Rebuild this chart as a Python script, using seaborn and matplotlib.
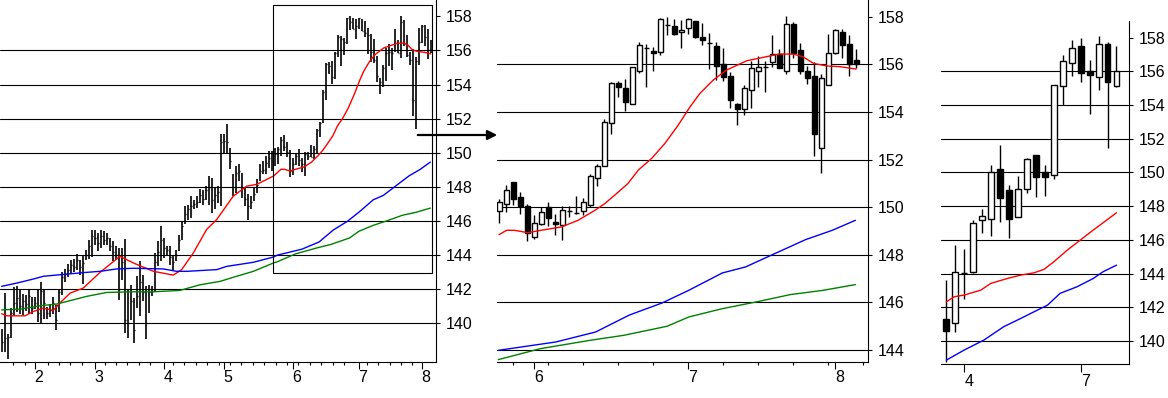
#three panel price chart - daily bars, daily candles (zoom), weekly candles

import matplotlib
matplotlib.use("Agg")
import matplotlib.pyplot as plt
from matplotlib.patches import Rectangle, FancyArrowPatch
import seaborn as sns
import pandas as pd
import numpy as np

#daily bars before the zoom window (high / low / close), bar index 0..91
early_high = [139.67, 141.76, 139.37, 140.88, 142.12, 142.16, 142.02, 141.72, 141.63, 142.02,
              141.53, 141.53, 141.92, 142.41, 142.02, 140.94, 141.14, 141.53, 141.04, 142.02,
              143.00, 143.20, 143.49, 143.69, 143.78, 144.08, 143.69, 143.98, 144.27, 144.86,
              145.49, 145.49, 145.29, 145.49, 145.39, 145.29, 145.00, 144.80, 144.51, 144.41,
              144.41, 144.94, 141.96, 142.25, 141.47, 142.74, 143.63, 142.84, 142.16, 142.25,
              142.16, 144.12, 144.80, 145.72, 145.00, 144.51, 144.51, 144.02, 144.31, 145.20,
              145.98, 146.86, 146.96, 147.45, 147.25, 147.45, 147.88, 147.84, 148.04, 148.63,
              148.53, 147.94, 148.04, 151.08, 151.08, 151.67, 150.30, 148.73, 149.22, 149.31,
              148.82, 147.94, 147.55, 147.45, 147.94, 148.43, 149.31, 149.51, 149.80, 150.10,
              150.10, 150.30]
early_low = [138.29, 138.29, 137.90, 139.12, 140.41, 140.65, 140.55, 140.45, 140.74, 140.55,
             140.55, 140.84, 140.06, 139.96, 140.25, 140.25, 140.35, 140.55, 139.57, 140.65,
             141.63, 142.41, 142.71, 142.90, 143.00, 143.10, 142.80, 142.31, 143.69, 143.78,
             143.88, 144.61, 144.21, 144.41, 144.61, 144.61, 144.21, 143.63, 143.72, 141.37,
             142.55, 139.41, 139.12, 140.20, 138.82, 140.88, 140.39, 141.27, 139.06, 140.59,
             141.57, 141.86, 143.33, 143.63, 143.82, 144.02, 143.43, 143.14, 143.63, 144.21,
             144.90, 145.79, 146.08, 146.18, 146.67, 146.77, 147.06, 146.96, 147.25, 146.96,
             146.47, 146.67, 147.06, 146.86, 150.00, 149.90, 149.02, 147.45, 147.65, 148.33,
             147.35, 146.86, 146.08, 146.67, 147.16, 147.65, 148.33, 148.73, 148.73, 149.12,
             148.92, 149.22]
early_close = [138.9, 139.1, 139.2, 140.6, 141.2, 141.5, 141.0, 141.3, 141.1, 141.6,
               140.9, 141.2, 140.6, 141.9, 141.2, 140.6, 140.8, 141.2, 140.2, 141.8,
               142.7, 142.9, 143.1, 143.4, 143.3, 143.7, 143.3, 143.5, 144.0, 144.5,
               145.1, 145.0, 144.7, 145.1, 144.9, 145.0, 144.5, 144.2, 144.0, 142.0,
               143.6, 140.2, 140.0, 141.3, 139.6, 141.6, 142.4, 141.8, 140.0, 141.8,
               141.9, 143.6, 144.2, 144.9, 144.4, 144.3, 143.9, 143.6, 144.0, 144.9,
               145.7, 146.4, 146.7, 146.9, 147.0, 147.1, 147.5, 147.3, 147.8, 148.0,
               147.2, 147.5, 147.7, 150.6, 150.7, 150.6, 149.5, 148.0, 148.8, 148.9,
               148.0, 147.3, 146.9, 147.1, 147.6, 148.1, 148.9, 149.0, 149.4, 149.7,
               149.5, 149.9]

#daily candles inside the zoom window (bar index 92..143)
zoom_open = [149.82, 150.15, 151.04, 150.41, 150.03, 148.75, 149.30, 150.00, 149.37, 149.27,
             149.83, 149.76, 149.82, 150.11, 151.21, 151.75, 153.52, 155.20, 154.99, 154.32,
             155.71, 156.67, 156.56, 156.50, 157.65, 157.60, 157.35, 157.51, 157.82, 157.15,
             156.88, 156.77, 156.00, 155.51, 154.33, 154.11, 154.91, 155.71, 155.87, 156.08,
             156.42, 155.71, 157.68, 156.59, 155.72, 155.50, 152.47, 155.14, 156.49, 157.35,
             156.86, 156.17]
zoom_high = [150.34, 150.93, 151.06, 150.62, 150.13, 149.69, 150.00, 150.21, 149.71, 150.04,
             150.04, 150.46, 150.39, 151.39, 151.81, 153.70, 155.27, 155.30, 155.38, 155.90,
             156.93, 156.86, 156.74, 157.93, 158.00, 157.91, 157.86, 157.93, 157.82, 157.75,
             157.33, 156.94, 156.69, 155.68, 154.37, 155.13, 156.14, 156.35, 156.14, 157.23,
             156.64, 158.03, 157.77, 156.88, 155.93, 156.08, 155.59, 157.29, 157.50, 157.49,
             157.25, 156.64]
zoom_low = [149.34, 149.80, 150.11, 149.73, 148.58, 148.67, 149.26, 149.20, 148.84, 148.63,
            149.59, 149.73, 149.66, 150.01, 150.90, 151.75, 153.07, 154.64, 154.05, 154.32,
            155.62, 155.06, 155.73, 156.39, 157.21, 157.23, 156.67, 157.26, 157.12, 156.79,
            155.82, 155.34, 155.29, 154.16, 153.46, 153.88, 154.18, 155.06, 154.85, 155.90,
            155.86, 155.58, 156.25, 155.59, 155.16, 152.16, 151.42, 155.14, 156.45, 156.25,
            155.52, 155.86]
zoom_close = [150.20, 150.74, 150.35, 150.06, 148.93, 149.35, 149.78, 149.55, 149.31, 149.90,
              149.83, 149.76, 150.20, 151.33, 151.72, 153.56, 155.20, 155.06, 154.43, 155.87,
              156.80, 156.67, 156.49, 157.89, 157.65, 157.26, 157.43, 157.89, 157.16, 157.01,
              156.88, 155.92, 155.45, 154.51, 154.14, 154.99, 155.83, 155.89, 155.87, 156.42,
              155.86, 157.68, 156.46, 155.73, 155.44, 153.08, 155.41, 156.48, 157.44, 156.79,
              156.00, 156.00]

#moving averages (bar index, value)
red_idx = [0, 1.7, 7.8, 10.6, 13.9, 17.2, 19.4, 22.8, 27.2, 32.8, 39.4, 43.9, 50.6, 57.2, 60.0,
           63.9, 68.3, 71.7, 77.2, 81.7, 85.0, 90.6, 92.0, 93.1, 94.2, 96.1, 98.0, 100.9, 103.3,
           105.7, 107.1, 108.5, 110.4, 111.9, 113.8, 115.7, 117.6, 119.3, 120.7, 122.6, 124.5,
           127.4, 130.2, 132.0, 134.0, 135.4, 136.9, 138.8, 140.7, 143.0]
red_val = [140.55, 140.43, 140.43, 140.69, 140.88, 140.75, 141.18, 141.76, 142.06, 142.98, 143.92,
           143.53, 143.04, 142.82, 143.14, 144.12, 145.49, 146.08, 147.45, 148.04, 148.14, 148.63,
           148.85, 149.03, 149.03, 148.93, 149.03, 149.17, 149.45, 149.87, 150.15, 150.50, 150.99,
           151.56, 152.05, 152.68, 153.45, 154.22, 154.78, 155.34, 155.76, 156.15, 156.32, 156.43,
           156.43, 156.32, 156.04, 155.93, 155.90, 155.80]
blue_idx = [0, 5, 10.6, 13.9, 19.4, 28.3, 32.8, 38.3, 43.9, 53.9, 58.3, 61.7, 71.7, 75.0, 83.9,
            90.6, 91.9, 100.1, 105.8, 110.6, 115.3, 119.1, 123.9, 127.2, 131.0, 135.8, 139.6, 142.9]
blue_val = [142.16, 142.35, 142.59, 142.75, 142.84, 142.98, 143.04, 143.18, 143.22, 143.18, 143.04,
            143.04, 143.14, 143.33, 143.57, 143.88, 143.99, 144.34, 144.76, 145.47, 145.98, 146.51,
            147.24, 147.49, 148.00, 148.64, 149.03, 149.45]
green_idx = [0, 6.1, 12.8, 18.3, 21.7, 28.3, 35.0, 43.9, 50.6, 59.4, 66.1, 72.8, 77.2, 83.9, 90.6,
             91.9, 97.9, 105.0, 109.8, 116.0, 119.1, 123.9, 128.7, 133.6, 138.3, 142.9]
green_val = [140.78, 140.82, 141.02, 141.12, 141.27, 141.57, 141.80, 141.84, 141.84, 141.92, 142.25,
             142.45, 142.69, 143.04, 143.53, 143.60, 144.06, 144.41, 144.62, 145.00, 145.39, 145.74,
             146.02, 146.33, 146.51, 146.75]

#weekly candles
week_open = [141.30, 141.05, 144.05, 144.11, 147.17, 147.21, 150.23, 148.95, 147.37, 148.99,
             151.02, 150.00, 149.84, 155.15, 156.51, 157.48, 156.00, 155.68, 157.64, 155.13]
week_high = [143.62, 145.69, 145.45, 147.17, 147.86, 150.43, 151.62, 149.25, 149.78, 150.88,
             151.02, 150.43, 155.19, 156.95, 157.88, 157.98, 156.65, 158.07, 157.76, 157.48]
week_low = [138.78, 140.55, 142.49, 144.05, 146.38, 146.26, 147.07, 146.14, 147.33, 148.79,
            148.55, 148.61, 149.64, 153.97, 155.72, 155.37, 153.49, 154.87, 151.42, 155.07]
week_close = [140.61, 144.07, 144.05, 147.03, 147.41, 150.05, 148.51, 147.21, 148.99, 150.77,
              149.74, 149.70, 155.19, 156.63, 157.40, 155.92, 155.80, 157.64, 155.39, 156.02]
wred_idx = [0, 0.89, 2.0, 3.85, 4.96, 6.8, 8.3, 9.8, 10.9, 12.0, 13.5, 14.96, 16.4, 17.9, 19.0]
wred_val = [142.33, 142.63, 142.73, 143.02, 143.42, 143.71, 143.91, 144.05, 144.25, 144.70,
            145.39, 145.99, 146.58, 147.17, 147.61]
wblue_idx = [0, 2.0, 4.2, 6.4, 8.3, 9.8, 11.3, 12.7, 14.6, 16.4, 17.5, 19.0]
wblue_val = [138.87, 139.47, 140.06, 140.85, 141.34, 141.74, 142.13, 142.83, 143.22, 143.71,
             144.11, 144.50]

#month labels
month_start = [11, 31, 54, 74, 97, 119, 140]
month_label = ['2', '3', '4', '5', '6', '7', '8']
week_tick = [2, 15]
week_tick_label = ['4', '7']

zoom_first = 92

sns.set_style("white")
plt.rcParams['font.family'] = ['Liberation Sans', 'DejaVu Sans']

daily = pd.DataFrame({
    'high': early_high + zoom_high,
    'low': early_low + zoom_low,
    'close': early_close + zoom_close,
})
daily['idx'] = np.arange(len(daily))

zoom = pd.DataFrame({'open': zoom_open, 'high': zoom_high, 'low': zoom_low, 'close': zoom_close})
zoom['idx'] = np.arange(len(zoom))

weekly = pd.DataFrame({'open': week_open, 'high': week_high, 'low': week_low, 'close': week_close})
weekly['idx'] = np.arange(len(weekly))

fig = plt.figure(figsize=(11.68, 3.98), dpi=100)
W, H = 1168, 398


def add_axes(x0, x1, y0, y1):
    return fig.add_axes([x0 / W, 1 - y1 / H, (x1 - x0) / W, (y1 - y0) / H])


ax_l = add_axes(0, 436, 0, 362)
ax_m = add_axes(497, 868, 0, 362)
ax_r = add_axes(941, 1129, 21, 364)

lw = 0.8
fs = 11.5


def style_axis(ax, yticks, grid_vals, xticks, xlabels, minor=None):
    for s in ['top', 'left']:
        ax.spines[s].set_visible(False)
    for s in ['bottom', 'right']:
        ax.spines[s].set_linewidth(lw)
        ax.spines[s].set_color('black')
    ax.yaxis.tick_right()
    ax.set_yticks(yticks)
    ax.set_yticklabels([str(v) for v in yticks])
    ax.set_xticks(xticks, xlabels)
    if minor is not None:
        ax.set_xticks(minor, minor=True)
    ax.tick_params(axis='y', which='both', right=True, left=False, direction='out', length=3,
                   width=lw, labelsize=fs, pad=4, colors='black')
    ax.tick_params(axis='x', which='both', bottom=True, top=False, direction='out',
                   width=lw, colors='black')
    ax.tick_params(axis='x', which='major', length=5, labelsize=fs, pad=1)
    ax.tick_params(axis='x', which='minor', length=2.5)
    for t in ax.get_xticklabels():
        t.set_horizontalalignment('left')
    for g in grid_vals:
        ax.axhline(g, color='black', lw=lw, zorder=1)
    ax.set_xlabel('')
    ax.set_ylabel('')


def candles(ax, df, width):
    ax.vlines(df['idx'], df['low'], df['high'], color='black', lw=1, zorder=2)
    up = df['close'] >= df['open']
    bottom = np.minimum(df['open'], df['close'])
    height = (df['close'] - df['open']).abs()
    ax.bar(df['idx'][up], height[up], bottom=bottom[up], width=width, color='white',
           edgecolor='black', linewidth=1, zorder=3)
    ax.bar(df['idx'][~up], height[~up], bottom=bottom[~up], width=width, color='black',
           edgecolor='black', linewidth=1, zorder=3)


#left panel: high-low-close bars
ax_l.vlines(daily['idx'], daily['low'], daily['high'], color='black', lw=1.2, zorder=2)
ax_l.hlines(daily['close'], daily['idx'], daily['idx'] + 0.5, color='black', lw=1, zorder=2)
sns.lineplot(x=red_idx, y=red_val, ax=ax_l, color='red', lw=1, estimator=None, zorder=4)
sns.lineplot(x=blue_idx, y=blue_val, ax=ax_l, color='blue', lw=1, estimator=None, zorder=4)
sns.lineplot(x=green_idx, y=green_val, ax=ax_l, color='green', lw=1, estimator=None, zorder=4)
ax_l.add_patch(Rectangle((zoom_first - 1.5, 142.94), len(zoom) + 1, 158.65 - 142.94,
                         fill=False, ec='black', lw=lw, zorder=5))
ax_l.set_xlim(-0.57, 144.8)
ax_l.set_ylim(137.72, 158.96)
l_minor = [t for t in np.arange(3.9, 144, 3.8) if min(abs(t - m) for m in month_start) > 1.5]
style_axis(ax_l, list(range(140, 159, 2)), list(range(140, 157, 2)), month_start, month_label,
           l_minor)

#middle panel: daily candles of the boxed window
candles(ax_m, zoom, 0.72)
sns.lineplot(x=[i - zoom_first for i in red_idx if i >= zoom_first],
             y=[v for i, v in zip(red_idx, red_val) if i >= zoom_first],
             ax=ax_m, color='red', lw=1, estimator=None, zorder=4)
sns.lineplot(x=[i - zoom_first for i in blue_idx if i >= zoom_first - 1],
             y=[v for i, v in zip(blue_idx, blue_val) if i >= zoom_first - 1],
             ax=ax_m, color='blue', lw=1, estimator=None, zorder=4)
sns.lineplot(x=[i - zoom_first for i in green_idx if i >= zoom_first - 1],
             y=[v for i, v in zip(green_idx, green_val) if i >= zoom_first - 1],
             ax=ax_m, color='green', lw=1, estimator=None, zorder=4)
ax_m.set_xlim(-0.29, 52.7)
ax_m.set_ylim(143.50, 158.70)
m_ticks = [m - zoom_first for m in month_start if m >= zoom_first]
m_labels = [l for m, l in zip(month_start, month_label) if m >= zoom_first]
style_axis(ax_m, list(range(144, 159, 2)), list(range(144, 157, 2)), m_ticks, m_labels,
           [t for t in range(2, 53, 5) if t not in m_ticks])

#right panel: weekly candles
candles(ax_r, weekly, 0.66)
sns.lineplot(x=wred_idx, y=wred_val, ax=ax_r, color='red', lw=1, estimator=None, zorder=4)
sns.lineplot(x=wblue_idx, y=wblue_val, ax=ax_r, color='blue', lw=1, estimator=None, zorder=4)
ax_r.set_xlim(-0.6, 20.4)
ax_r.set_ylim(138.64, 158.98)
style_axis(ax_r, list(range(140, 159, 2)), list(range(140, 157, 2)), week_tick, week_tick_label)
ax_r.tick_params(axis='x', which='major', length=6)

#arrow from the box to the zoomed panel
arrow = FancyArrowPatch((415 / W, 1 - 135 / H), (500 / W, 1 - 135 / H),
                        transform=fig.transFigure, arrowstyle='-|>', mutation_scale=14,
                        lw=1.6, color='black')
fig.add_artist(arrow)

fig.savefig('out.png', dpi=100)
